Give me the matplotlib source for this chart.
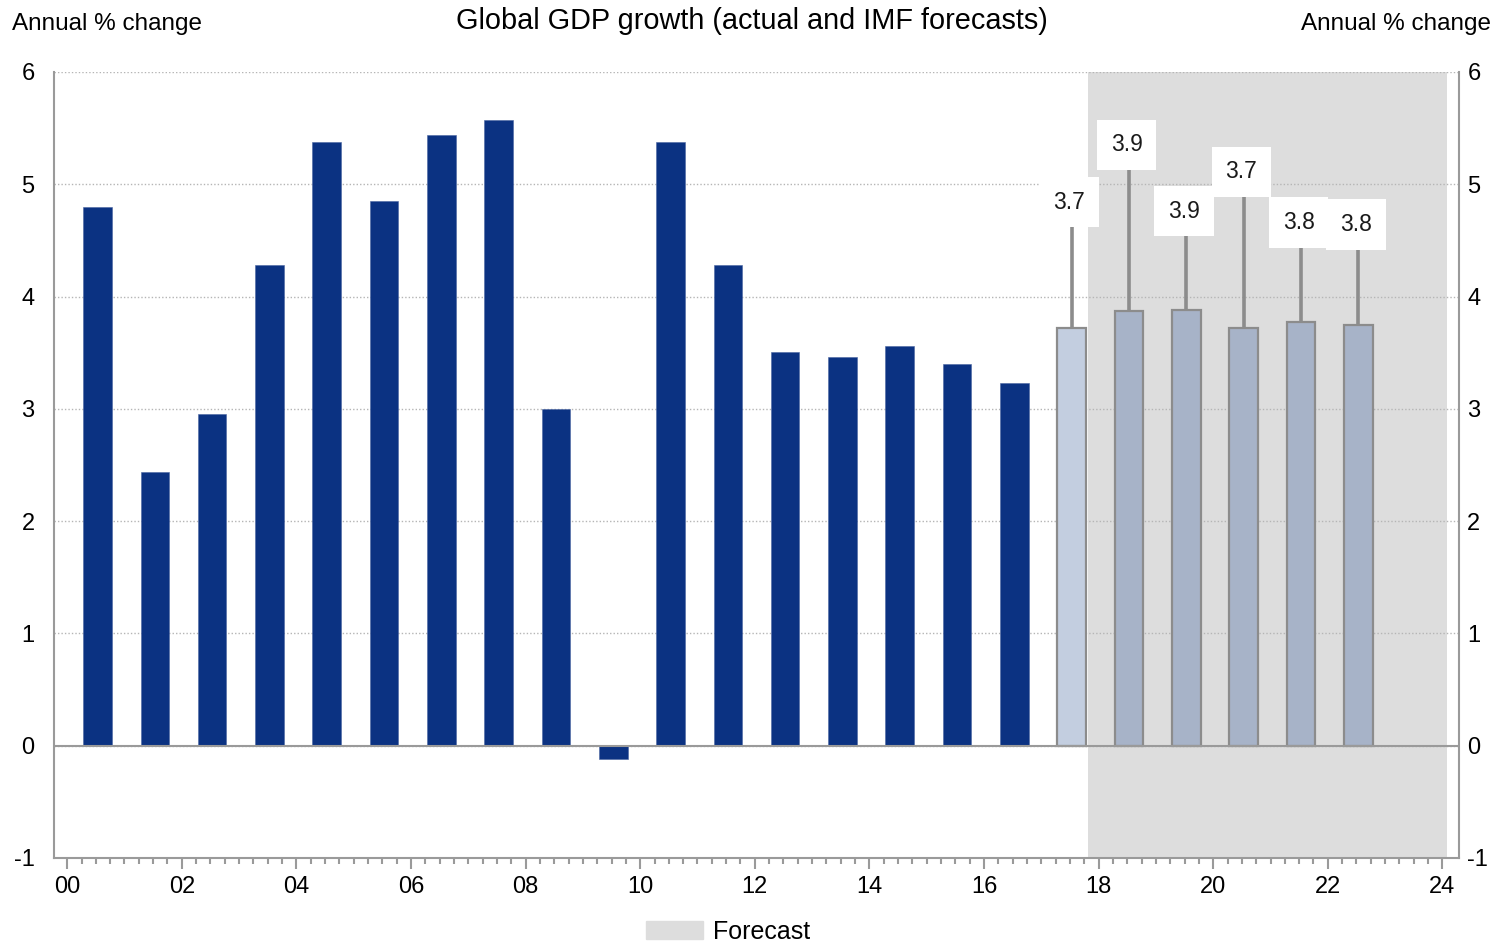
import numpy as np
import matplotlib
matplotlib.use("Agg")
import matplotlib.pyplot as plt
from matplotlib.patches import Patch
from matplotlib.ticker import MultipleLocator, FixedLocator

plt.rcParams["font.family"] = ["Liberation Sans", "DejaVu Sans"]
plt.rcParams["axes.unicode_minus"] = False

# annual real GDP growth, 2000-2016 outturns
years_actual = list(range(2000, 2017))
growth_actual = [4.80, 2.44, 2.95, 4.28, 5.38, 4.85, 5.44, 5.57, 3.00, -0.12,
                 5.38, 4.28, 3.51, 3.46, 3.56, 3.40, 3.23]

# IMF figures 2017-2022 (2017 estimate, rest forecasts)
years_fc = list(range(2017, 2023))
growth_fc = [3.72, 3.87, 3.88, 3.72, 3.77, 3.75]
label_y = [4.84, 5.35, 4.76, 5.11, 4.66, 4.64]   # height of the value callouts

year_ticks = list(range(0, 25, 2))
year_labels = [f"{t:02d}" for t in year_ticks]
fc_start, fc_end = 17.82, 24.08

DARK = "#0b3282"
FC_BAR = "#a7b3c8"
EST_BAR = "#c3cee0"
EDGE = "#8c8c8c"
SPINE = "#9a9a9a"

fig = plt.figure(figsize=(14.92, 9.42), dpi=100)
ax = fig.add_axes([0.0362, 0.0892, 0.9417, 0.8344])
ax.set_xlim(-0.23, 24.29)
ax.set_ylim(-1, 6)

ax.axvspan(fc_start, fc_end, color="#dddddd", lw=0, zorder=0)
ax.set_axisbelow(True)
ax.yaxis.grid(True, ls=(0, (1, 1.5)), color="#b5b5b5", lw=1)

xa = np.array(years_actual) - 2000 + 0.53
ax.bar(xa, growth_actual, width=0.5, color=DARK, edgecolor="#4a64a0", lw=0.4, zorder=2)

xf = np.array(years_fc) - 2000 + 0.53
colors = [EST_BAR] + [FC_BAR] * (len(years_fc) - 1)
ax.bar(xf, growth_fc, width=0.5, color=colors, edgecolor=EDGE, lw=1.6, zorder=2)

for x, v, ly in zip(xf, growth_fc, label_y):
    ax.plot([x, x], [v, ly], color=EDGE, lw=2.6, zorder=1.8, solid_capstyle="butt")
    ax.text(x - 0.04, ly, f"{v:.1f}", ha="center", va="center", fontsize=16.5,
            color="#1a1a1a", zorder=4,
            bbox=dict(boxstyle="square,pad=0.6", fc="white", ec="none"))

ax.axhline(0, color=SPINE, lw=1.5, zorder=3)

for side in ("left", "right", "bottom"):
    ax.spines[side].set_color(SPINE)
    ax.spines[side].set_linewidth(1.5)
ax.spines["top"].set_visible(False)

ax.xaxis.set_major_locator(FixedLocator(year_ticks))
ax.set_xticklabels(year_labels)
ax.xaxis.set_minor_locator(FixedLocator(np.arange(0, 24.01, 0.25)))
ax.tick_params(axis="x", which="major", length=8, width=1.5, color=SPINE,
               labelsize=17, pad=5)
ax.tick_params(axis="x", which="minor", length=4, width=1.5, color=SPINE)

ax.yaxis.set_major_locator(MultipleLocator(1))
ax.tick_params(axis="y", length=0, labelsize=17, pad=14)

ax2 = ax.twinx()
ax2.set_ylim(ax.get_ylim())
ax2.yaxis.set_major_locator(MultipleLocator(1))
ax2.tick_params(axis="y", length=0, labelsize=17, pad=6)
for s in ax2.spines.values():
    s.set_visible(False)

fig.text(0.008, 0.974, "Annual % change", ha="left", va="center", fontsize=17.5)
fig.text(0.999, 0.974, "Annual % change", ha="right", va="center", fontsize=17.5)
fig.text(0.504, 0.978, "Global GDP growth (actual and IMF forecasts)",
         ha="center", va="center", fontsize=20.8)

fig.legend(handles=[Patch(color="#dddddd", label="Forecast")], loc="lower center",
           bbox_to_anchor=(0.488, -0.026), frameon=False, fontsize=18,
           handlelength=2.3, handleheight=0.75, handletextpad=0.4)

fig.savefig("out.png", dpi=100)
